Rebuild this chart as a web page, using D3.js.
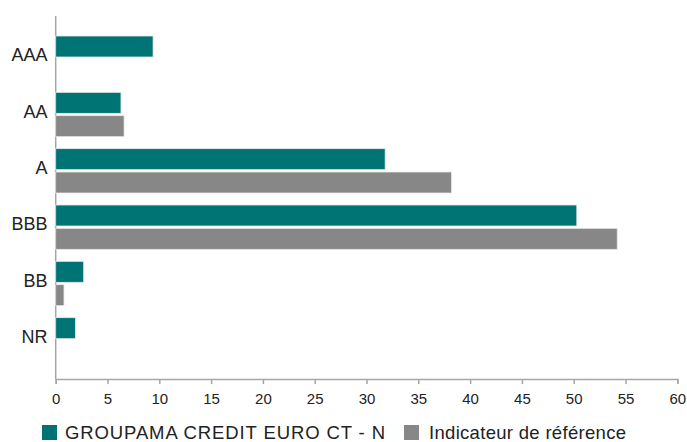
<!DOCTYPE html>
<html>
<head>
<meta charset="utf-8">
<script src="https://cdn.jsdelivr.net/npm/d3@7"></script>
<style>
  body { margin: 0; background: #fff; }
  text { font-family: "Liberation Sans", Arial, sans-serif; fill: #222; }
</style>
</head>
<body>
<div id="chart"></div>
<script>
const width = 687;
const height = 442;

const categories = ['AAA', 'AA', 'A', 'BBB', 'BB', 'NR'];
const fundValues = [9.4, 6.3, 31.8, 50.3, 2.7, 1.9];
const indexValues = [0, 6.6, 38.2, 54.2, 0.8, 0];
const seriesNames = ['GROUPAMA CREDIT EURO CT - N', 'Indicateur de référence'];
const colors = ['#007474', '#878787'];
const xTicks = [0, 5, 10, 15, 20, 25, 30, 35, 40, 45, 50, 55, 60];

const svg = d3.select('#chart')
  .append('svg')
  .attr('width', width)
  .attr('height', height);

const x = d3.scaleLinear()
  .domain([0, 60])
  .range([55.7, 677.3]);

const y = d3.scaleBand()
  .domain(categories)
  .range([30, 368]);

const inner = d3.scaleBand()
  .domain([0, 1])
  .range([6, y.bandwidth() - 6])
  .paddingInner(0.1);

// axes
svg.append('line')
  .attr('x1', x(0)).attr('x2', x(0))
  .attr('y1', 16).attr('y2', 379)
  .attr('stroke', '#a6a6a6').attr('stroke-width', 1.5);

const xAxis = svg.append('g')
  .attr('transform', 'translate(0,379)')
  .call(d3.axisBottom(x).tickValues(xTicks).tickSize(5).tickPadding(9));

xAxis.select('.domain').attr('stroke', '#a6a6a6').attr('stroke-width', 1.5);
xAxis.selectAll('.tick line').attr('stroke', '#a6a6a6').attr('stroke-width', 1.5);
xAxis.selectAll('text')
  .style('font-size', '15px')
  .style('font-family', '"Liberation Sans", Arial, sans-serif')
  .attr('fill', '#222');

// category labels
svg.append('g')
  .selectAll('text')
  .data(categories)
  .enter()
  .append('text')
  .attr('x', 47.5)
  .attr('y', d => y(d) + y.bandwidth() / 2 - 3)
  .attr('dy', '0.35em')
  .attr('text-anchor', 'end')
  .style('font-size', '18px')
  .text(d => d);

// bars
const series = [fundValues, indexValues];
series.forEach((vals, s) => {
  svg.append('g')
    .selectAll('rect')
    .data(categories.map((c, i) => ({ cat: c, v: vals[i] })).filter(d => d.v > 0))
    .enter()
    .append('rect')
    .attr('x', x(0))
    .attr('y', d => y(d.cat) + inner(s))
    .attr('width', d => x(d.v) - x(0))
    .attr('height', inner.bandwidth())
    .attr('fill', colors[s])
    .attr('stroke', '#e8e8e8')
    .attr('stroke-width', 0.8);
});

// legend
const legendX = [42, 404];
const legend = svg.append('g')
  .selectAll('g')
  .data(seriesNames)
  .enter()
  .append('g')
  .attr('transform', (d, i) => 'translate(' + legendX[i] + ',425)');

legend.append('rect')
  .attr('width', 15)
  .attr('height', 15)
  .attr('fill', (d, i) => colors[i]);

legend.append('text')
  .attr('x', (d, i) => i === 0 ? 23 : 25)
  .attr('y', 14)
  .attr('textLength', (d, i) => i === 0 ? 320 : 197)
  .attr('lengthAdjust', 'spacing')
  .style('font-size', '18.5px')
  .text(d => d);
</script>
</body>
</html>
